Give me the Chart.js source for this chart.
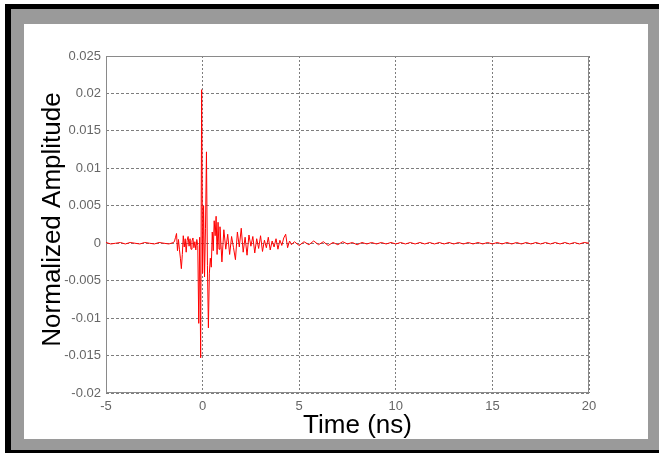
<!DOCTYPE html>
<html>
<head>
<meta charset="utf-8">
<script src="https://cdn.jsdelivr.net/npm/chart.js@4.4.1/dist/chart.umd.min.js"></script>
<style>
  html, body { margin: 0; background: #fff; overflow: hidden; width: 659px; height: 453px; }
  #frame { position: absolute; left: 5px; top: 4px; width: 654px; height: 449px; background: #000; }
  #bevel { position: absolute; left: 11px; top: 9px; width: 648px; height: 441px; background: #9a9a9a; }
  #panel { position: absolute; left: 24px; top: 24px; width: 624px; height: 415px; background: #fff; }
</style>
</head>
<body>
<div id="frame"></div>
<div id="bevel"></div>
<div id="panel"><canvas id="pulseChart" width="624" height="415"></canvas></div>
<script>
// time axis (ns)
const timeNs = [
  -5, -4.75, -4.5, -4.25, -4, -3.75, -3.5, -3.25, -3, -2.75, -2.5, -2.25, -2, -1.75, -1.5,
  -1.45, -1.4, -1.35, -1.3, -1.25, -1.2, -1.15, -1.1, -1.05, -1,
  -0.95, -0.9, -0.85, -0.8, -0.75, -0.7, -0.65, -0.6, -0.55, -0.5,
  -0.45, -0.4, -0.35, -0.3, -0.25, -0.2, -0.15, -0.1, -0.05, 0,
  0.05, 0.1, 0.15, 0.2, 0.25, 0.3, 0.35, 0.4, 0.45, 0.5,
  0.55, 0.6, 0.65, 0.7, 0.75, 0.8, 0.85,
  0.9, 1, 1.1, 1.2, 1.3, 1.4, 1.5, 1.6, 1.7, 1.8, 1.9, 2,
  2.1, 2.2, 2.3, 2.4, 2.5, 2.6, 2.7, 2.8, 2.9, 3,
  3.1, 3.2, 3.3, 3.4, 3.5, 3.6, 3.7, 3.8, 3.9, 4,
  4.1, 4.2, 4.3, 4.4, 4.5, 4.6,
  4.75, 5, 5.25, 5.5, 5.75, 6, 6.25, 6.5, 6.75, 7,
  7.25, 7.5, 7.75, 8, 8.25, 8.5, 8.75, 9, 9.25, 9.5,
  9.75, 10, 10.25, 10.5, 10.75, 11, 11.25, 11.5, 11.75, 12,
  12.25, 12.5, 12.75, 13, 13.25, 13.5, 13.75, 14, 14.25, 14.5,
  14.75, 15, 15.25, 15.5, 15.75, 16, 16.25, 16.5, 16.75, 17,
  17.25, 17.5, 17.75, 18, 18.25, 18.5, 18.75, 19, 19.25, 19.5,
  19.75, 20
];

// normalized amplitude
const amplitude = [
  0.0001, -0.0001, 0.0000, 0.0001, -0.0001, 0.0001, 0.0000, -0.0001, 0.0001, 0.0000, -0.0001, 0.0001, 0.0000, -0.0001, 0.0001,
  0.0003, 0.0008, 0.0013, -0.0010, 0.0005, -0.0008, -0.0020, -0.0034, -0.0015, 0.0010,
  -0.0005, 0.0006, -0.0012, 0.0004, 0.0009, -0.0004, 0.0006, -0.0008, 0.0003, 0.0007,
  -0.0006, 0.0002, -0.0009, 0.0005, -0.0003, -0.0107, 0.0008, -0.0153, 0.0205, -0.0040,
  0.0050, -0.0045, 0.0020, 0.0122, -0.0030, -0.0113, -0.0040, -0.0020, -0.0032, 0.0015,
  -0.0010, 0.0030, 0.0010, 0.0036, -0.0015, 0.0028, -0.0008,
  0.0022, -0.0025, 0.0018, -0.0008, 0.0012, -0.0015, 0.0009, -0.0006, -0.0022, 0.0015, -0.0005, 0.0020,
  -0.0012, 0.0008, -0.0016, 0.0011, -0.0004, 0.0009, -0.0013, 0.0006, -0.0007, 0.0010,
  -0.0011, 0.0004, -0.0006, 0.0008, -0.0009, 0.0003, -0.0005, 0.0006, -0.0008, 0.0004,
  -0.0003, 0.0007, 0.0012, -0.0006, 0.0003, -0.0002,
  0.0002, -0.0003, 0.0002, -0.0002, 0.0003, -0.0002, 0.0002, -0.0003, 0.0001, -0.0002,
  0.0002, -0.0001, 0.0001, -0.0002, 0.0001, -0.0001, 0.0001, -0.0001, 0.0001, -0.0001,
  0.0001, -0.0001, 0.0001, -0.0001, 0.0001, -0.0001, 0.0001, -0.0001, 0.0001, -0.0001,
  0.0001, -0.0001, 0.0001, -0.0001, 0.0001, -0.0001, 0.0001, -0.0001, 0.0001, -0.0001,
  0.0001, -0.0001, 0.0001, -0.0001, 0.0001, -0.0001, 0.0001, -0.0001, 0.0001, -0.0001,
  0.0001, -0.0001, 0.0001, -0.0001, 0.0001, -0.0001, 0.0001, -0.0001, 0.0001, -0.0001,
  0.0001, 0.0000
];

const xTicks = [-5, 0, 5, 10, 15, 20];
const yTickLabels = ['0.025', '0.02', '0.015', '0.01', '0.005', '0', '-0.005', '-0.01', '-0.015', '-0.02'];
const xTitle = 'Time (ns)';
const yTitle = 'Normalized Amplitude';

const tickFont = { family: 'Liberation Sans, Arial, sans-serif', size: 13 };
const gridColor = 'rgba(70,70,70,0.7)';

const framePlugin = {
  id: 'frame',
  beforeDatasetsDraw(chart) {
    const { ctx, chartArea: a } = chart;
    ctx.save();
    ctx.strokeStyle = '#8a8a8a';
    ctx.lineWidth = 1;
    ctx.strokeRect(a.left + 0.5, a.top + 0.5, a.right - a.left - 1, a.bottom - a.top - 1);
    ctx.restore();
  }
};

const titlePlugin = {
  id: 'axisTitles',
  afterDraw(chart) {
    const { ctx, chartArea: a } = chart;
    ctx.save();
    ctx.fillStyle = '#000';
    ctx.font = '26px "Liberation Sans", Arial, sans-serif';
    ctx.textAlign = 'center';
    ctx.textBaseline = 'alphabetic';
    ctx.fillText(xTitle, (a.left + a.right) / 2 + 10, a.bottom + 40);
    ctx.translate(36, (a.top + a.bottom) / 2 - 5);
    ctx.rotate(-Math.PI / 2);
    ctx.fillText(yTitle, 0, 0);
    ctx.restore();
  }
};

new Chart(document.getElementById('pulseChart'), {
  type: 'line',
  data: {
    datasets: [{
      data: timeNs.map((t, i) => ({ x: t, y: amplitude[i] })),
      borderColor: '#ff0000',
      borderWidth: 1,
      pointRadius: 0,
      tension: 0,
      fill: false
    }]
  },
  options: {
    responsive: false,
    animation: false,
    parsing: false,
    layout: { padding: { left: 0, top: 32, right: 59, bottom: 0 } },
    plugins: { legend: { display: false }, tooltip: { enabled: false } },
    scales: {
      x: {
        type: 'linear',
        min: -5,
        max: 20,
        afterBuildTicks: s => { s.ticks = xTicks.map(v => ({ value: v })); },
        afterFit: s => { s.height = 46; },
        ticks: { color: '#666', font: tickFont, padding: 6, maxRotation: 0 },
        grid: { color: gridColor, drawTicks: false },
        border: { display: false, dash: [2, 2] }
      },
      y: {
        type: 'linear',
        min: -0.02,
        max: 0.025,
        ticks: {
          stepSize: 0.005,
          color: '#666',
          font: tickFont,
          padding: 5,
          callback: (v, i, arr) => yTickLabels[arr.length - 1 - i]
        },
        afterFit: s => { s.width = 82; },
        grid: { color: gridColor, drawTicks: false },
        border: { display: false, dash: [3, 2] }
      }
    }
  },
  plugins: [framePlugin, titlePlugin]
});
</script>
</body>
</html>
